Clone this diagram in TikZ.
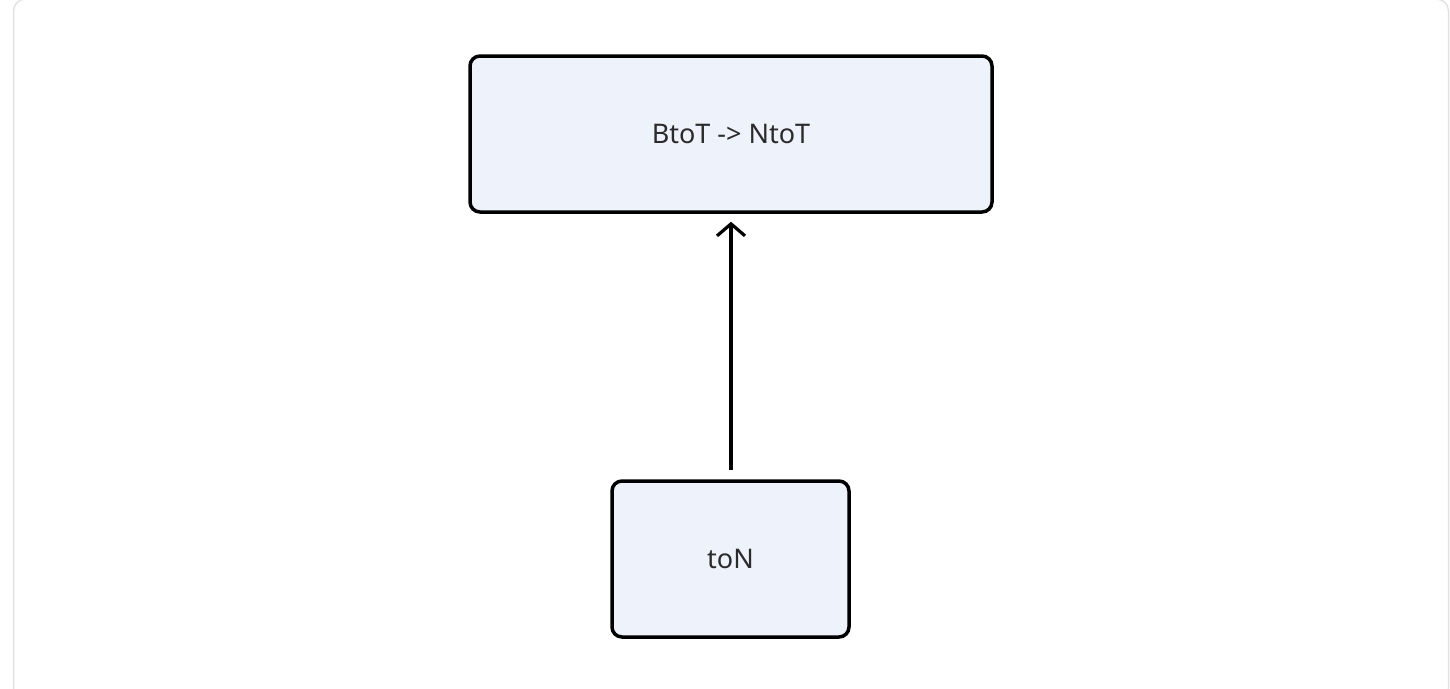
\documentclass[tikz,border=0pt]{standalone}
\usepackage{fontspec}
\setmainfont{Noto Sans}
\usetikzlibrary{arrows.meta}
\definecolor{nodefill}{HTML}{EEF2FB}
\definecolor{framegray}{HTML}{E2E2E2}
\definecolor{textcol}{HTML}{2B2B2B}
\tikzset{
  box/.style={draw=black, line width=3.5pt, fill=nodefill, rounded corners=10pt, inner sep=0pt, text=textcol, font=\fontsize{27}{32}\selectfont},
  conn/.style={line width=3.2pt, -{Straight Barb[length=12pt,width=28pt,line width=3.2pt]}}
}
\begin{document}
\begin{tikzpicture}[x=1pt,y=-1pt]
\useasboundingbox (0,0) rectangle (1450,688);
\fill[white] (0,0) rectangle (1450,688);
\draw[framegray, line width=1.5pt, rounded corners=12pt] (13.5,-1) rectangle (1448.5,700);
\node[box, minimum width=522pt, minimum height=156pt] (top) at (731,134) {BtoT -> NtoT};
\node[box, minimum width=237pt, minimum height=156pt] (bot) at (730.5,559) {toN};
\draw[conn] ([yshift=9pt]bot.north -| top.south) -- ([yshift=-8pt]top.south);
\end{tikzpicture}
\end{document}
